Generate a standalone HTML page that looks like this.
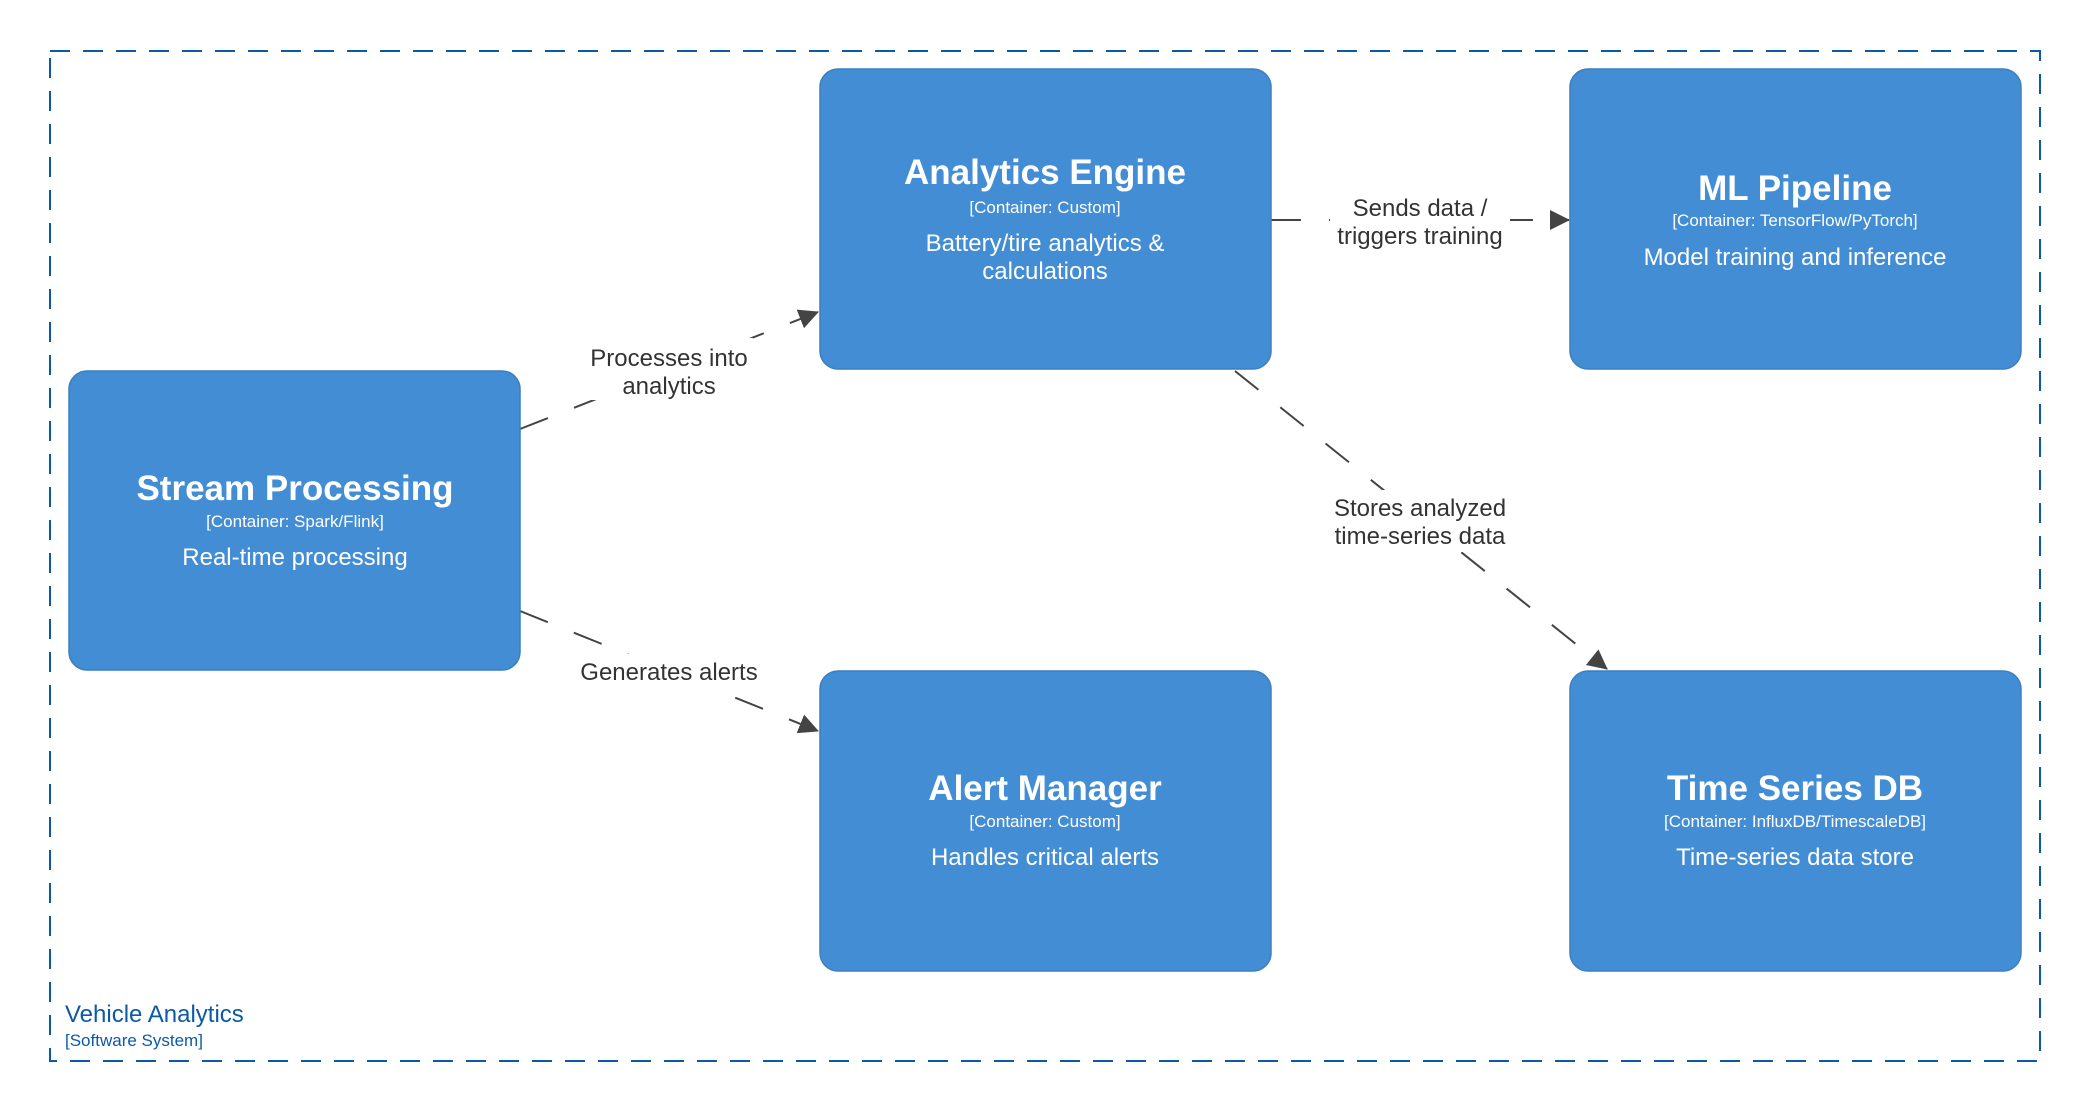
<!DOCTYPE html>
<html><head><meta charset="utf-8"><style>
html,body{margin:0;padding:0;background:#fff;}
svg{display:block;}
text{font-family:"Liberation Sans",sans-serif;}
</style></head><body>
<svg width="2090" height="1111" viewBox="0 0 2090 1111" xmlns="http://www.w3.org/2000/svg">
<defs>
<marker id="ah" markerWidth="12" markerHeight="12" refX="11" refY="6" orient="auto" markerUnits="userSpaceOnUse">
<path d="M0,0 L12,6 L0,12 z" fill="#444"/>
</marker>
<marker id="ah2" viewBox="0 0 20 20" markerWidth="20" markerHeight="20" refX="19" refY="10" orient="auto" markerUnits="userSpaceOnUse">
<path d="M0,0 L20,10 L0,20 z" fill="#444"/>
</marker>
</defs>
<rect x="50" y="51" width="1990" height="1010" fill="none" stroke="#0b5aa6" stroke-width="2" stroke-dasharray="20,13"/>
<text x="65" y="1022" font-size="24" fill="#0b5aa6">Vehicle Analytics</text>
<text x="65" y="1046" font-size="17" fill="#0b5aa6">[Software System]</text>

<g stroke="#444" stroke-width="2" fill="none" stroke-dasharray="30,28">
<line x1="520" y1="429" x2="818" y2="312" marker-end="url(#ah2)"/>
<line x1="520" y1="611" x2="818" y2="731" marker-end="url(#ah2)"/>
<line x1="1271" y1="220" x2="1569" y2="220" marker-end="url(#ah2)"/>
<line x1="1235" y1="371" x2="1607" y2="669" marker-end="url(#ah2)"/>
</g>
<g font-size="24" fill="#333" text-anchor="middle">
<rect x="585" y="338" width="168" height="62" fill="#fff"/>
<text x="669" y="366">Processes into</text>
<text x="669" y="394">analytics</text>
<rect x="572" y="654" width="194" height="34" fill="#fff"/>
<text x="669" y="680">Generates alerts</text>
<rect x="1330" y="189" width="180" height="62" fill="#fff"/>
<text x="1420" y="216">Sends data /</text>
<text x="1420" y="244">triggers training</text>
<rect x="1328" y="490" width="184" height="62" fill="#fff"/>
<text x="1420" y="516">Stores analyzed</text>
<text x="1420" y="544">time-series data</text>
</g>

<g fill="#438dd5" stroke="#3c7fc0" stroke-width="1.5">
<rect x="69" y="371" width="451" height="299" rx="18"/>
<rect x="820" y="69" width="451" height="300" rx="18"/>
<rect x="1570" y="69" width="451" height="300" rx="18"/>
<rect x="820" y="671" width="451" height="300" rx="18"/>
<rect x="1570" y="671" width="451" height="300" rx="18"/>
</g>
<g fill="#fff" text-anchor="middle">
<text x="295" y="500" font-size="35" font-weight="bold">Stream Processing</text>
<text x="295" y="527" font-size="17">[Container: Spark/Flink]</text>
<text x="295" y="565" font-size="24">Real-time processing</text>

<text x="1045" y="184" font-size="35" font-weight="bold">Analytics Engine</text>
<text x="1045" y="213" font-size="17">[Container: Custom]</text>
<text x="1045" y="251" font-size="24">Battery/tire analytics &amp;</text>
<text x="1045" y="279" font-size="24">calculations</text>

<text x="1795" y="200" font-size="35" font-weight="bold">ML Pipeline</text>
<text x="1795" y="226" font-size="17">[Container: TensorFlow/PyTorch]</text>
<text x="1795" y="265" font-size="24">Model training and inference</text>

<text x="1045" y="800" font-size="35" font-weight="bold">Alert Manager</text>
<text x="1045" y="827" font-size="17">[Container: Custom]</text>
<text x="1045" y="865" font-size="24">Handles critical alerts</text>

<text x="1795" y="800" font-size="35" font-weight="bold">Time Series DB</text>
<text x="1795" y="827" font-size="17">[Container: InfluxDB/TimescaleDB]</text>
<text x="1795" y="865" font-size="24">Time-series data store</text>
</g>
</svg>
</body></html>
